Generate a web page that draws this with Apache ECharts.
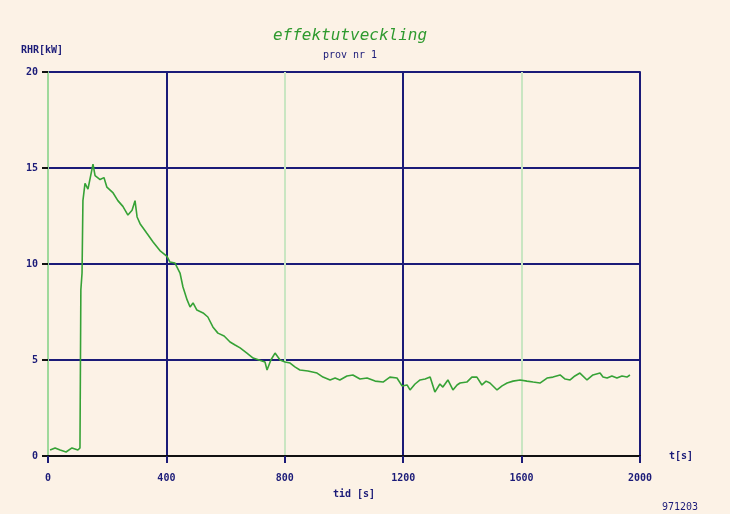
<!DOCTYPE html>
<html>
<head>
<meta charset="utf-8">
<script src="https://cdn.jsdelivr.net/npm/echarts@6/dist/echarts.min.js"></script>
<style>
  html, body { margin: 0; padding: 0; background: #fcf2e6; }
  #chart { width: 730px; height: 514px; }
</style>
</head>
<body>
<div id="chart"></div>
<script>
// Heat release over time for one test run
const timeSec = [7, 24, 41, 61, 81, 101, 108, 111, 115, 118, 125, 135, 152, 159, 176, 189, 199, 220, 236, 253,
  270, 284, 294, 301, 311, 334, 355, 378, 402, 412, 429, 446, 456, 470, 480, 490, 503, 524, 540, 557,
  574, 595, 615, 632, 649, 672, 693, 713, 733, 740, 753, 767, 784, 801, 818, 834, 851, 878, 909, 929,
  953, 970, 986, 1010, 1030, 1054, 1078, 1105, 1132, 1155, 1179, 1196, 1213, 1223, 1240, 1257, 1274, 1291, 1307, 1324,
  1334, 1351, 1368, 1382, 1392, 1415, 1432, 1449, 1466, 1480, 1493, 1517, 1534, 1551, 1571, 1595, 1618, 1639, 1662, 1686,
  1706, 1730, 1747, 1764, 1780, 1797, 1821, 1841, 1865, 1875, 1889, 1905, 1922, 1939, 1956, 1966];
const powerKW = [0.31, 0.42, 0.31, 0.21, 0.42, 0.31, 0.42, 8.65, 9.53, 13.3, 14.2, 13.9, 15.2, 14.6, 14.4, 14.5, 14.0, 13.7, 13.3, 13.0,
  12.55, 12.8, 13.3, 12.45, 12.1, 11.6, 11.15, 10.7, 10.4, 10.1, 10.05, 9.53, 8.8, 8.13, 7.76, 7.97, 7.6, 7.45, 7.24, 6.72,
  6.4, 6.25, 5.94, 5.78, 5.63, 5.36, 5.1, 5.0, 4.9, 4.48, 5.0, 5.36, 5.0, 4.9, 4.84, 4.64, 4.48, 4.43, 4.32, 4.11,
  3.96, 4.06, 3.96, 4.17, 4.22, 4.01, 4.06, 3.9, 3.85, 4.11, 4.06, 3.65, 3.7, 3.44, 3.75, 3.96, 4.01, 4.11, 3.33, 3.75,
  3.59, 3.96, 3.44, 3.7, 3.8, 3.85, 4.11, 4.11, 3.7, 3.9, 3.8, 3.44, 3.65, 3.8, 3.9, 3.96, 3.9, 3.85, 3.8, 4.06,
  4.11, 4.22, 4.01, 3.96, 4.17, 4.32, 3.96, 4.22, 4.32, 4.11, 4.06, 4.17, 4.06, 4.17, 4.11, 4.22];

const xTicks = [0, 400, 800, 1200, 1600, 2000];
const yTicks = [0, 5, 10, 15, 20];

const titleText = 'effektutveckling';
const subtitleText = 'prov nr 1';
const yName = 'RHR[kW]';
const xName = 'tid [s]';
const xUnit = 't[s]';
const dateText = '971203';

const navy = '#1b1b78';
const inkFont = '"DejaVu Sans Mono", monospace';

const chart = echarts.init(document.getElementById('chart'), null, { renderer: 'canvas' });
chart.setOption({
  backgroundColor: '#fcf2e6',
  animation: false,
  title: [
    { text: titleText, left: 345, top: 23, textAlign: 'center',
      textStyle: { color: '#2f9a2f', fontFamily: inkFont, fontStyle: 'italic', fontWeight: 'normal', fontSize: 16 } },
    { text: subtitleText, left: 345, top: 45, textAlign: 'center',
      textStyle: { color: navy, fontFamily: inkFont, fontWeight: 'normal', fontSize: 10 } },
    { text: yName, left: 16, top: 40,
      textStyle: { color: navy, fontFamily: inkFont, fontWeight: 'bold', fontSize: 10 } },
    { text: xUnit, left: 664, top: 446,
      textStyle: { color: navy, fontFamily: inkFont, fontWeight: 'bold', fontSize: 10 } },
    { text: dateText, left: 657, top: 497,
      textStyle: { color: navy, fontFamily: inkFont, fontWeight: 'normal', fontSize: 10 } }
  ],
  grid: { left: 48, top: 72, right: 90, bottom: 58, containLabel: false },
  xAxis: {
    type: 'value',
    min: xTicks[0],
    max: xTicks[xTicks.length - 1],
    interval: 400,
    name: xName,
    nameLocation: 'middle',
    nameGap: 33,
    nameTextStyle: { color: navy, fontFamily: inkFont, fontWeight: 'bold', fontSize: 10, padding: [0, 0, 0, 20] },
    axisLine: { show: true, onZero: false, lineStyle: { color: '#111', width: 2 } },
    axisTick: { show: true, length: 7, lineStyle: { color: navy, width: 2 } },
    axisLabel: { color: navy, fontFamily: inkFont, fontWeight: 'bold', fontSize: 10, margin: 17,
      formatter: (v) => String(v) },
    splitLine: { show: true, lineStyle: { color: ['#b8dfb4', navy, '#c9e6c2', navy, '#c9e6c2', navy], width: 2 } }
  },
  yAxis: [{
    type: 'value',
    min: yTicks[0],
    max: yTicks[yTicks.length - 1],
    interval: 5,
    axisLine: { show: true, lineStyle: { color: '#9fd99c', width: 2 } },
    axisTick: { show: true, length: 6, lineStyle: { color: '#111', width: 2 } },
    axisLabel: { color: navy, fontFamily: inkFont, fontWeight: 'bold', fontSize: 10, margin: 10 },
    splitLine: { show: true, lineStyle: { color: navy, width: 2 } }
  }, {
    type: 'value',
    position: 'right',
    min: yTicks[0],
    max: yTicks[yTicks.length - 1],
    interval: 5,
    axisLine: { show: true, lineStyle: { color: navy, width: 2 } },
    axisTick: { show: false },
    axisLabel: { show: false },
    splitLine: { show: false }
  }],
  series: [{
    type: 'line',
    data: timeSec.map((t, i) => [t, powerKW[i]]),
    showSymbol: false,
    lineStyle: { color: '#36a236', width: 1.6 },
    z: 3
  }]
});
</script>
</body>
</html>
